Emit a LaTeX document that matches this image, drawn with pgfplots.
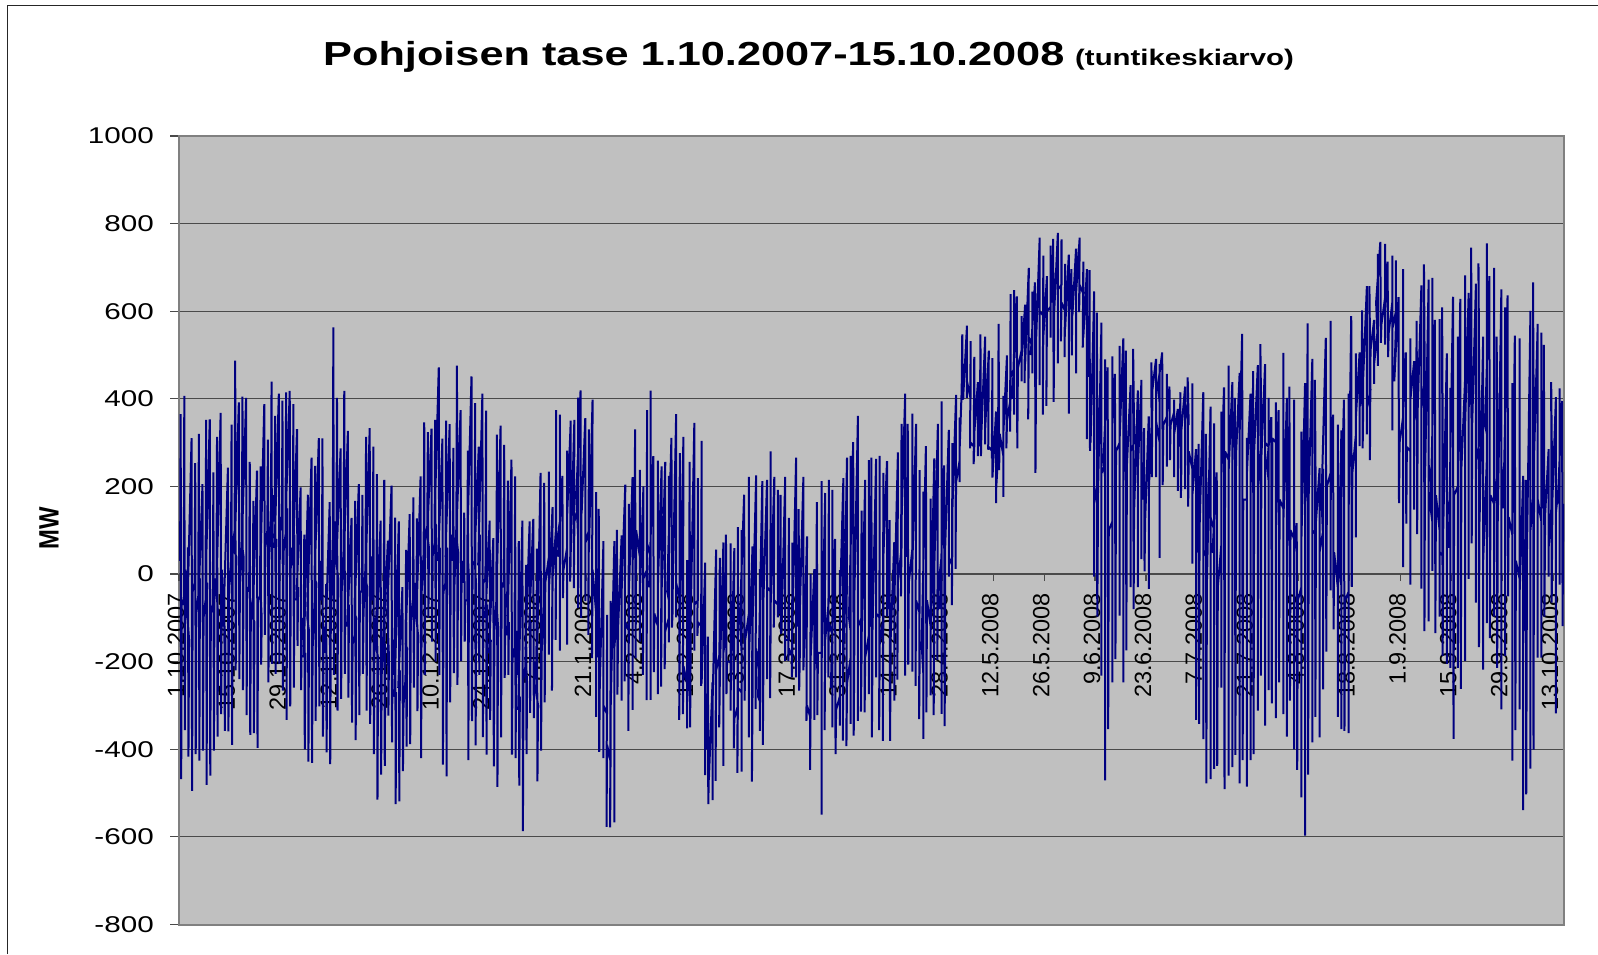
\documentclass[border=0pt]{standalone}
\usepackage{fontspec}
\usepackage{pgfplots}
\pgfplotsset{compat=1.18}
\setmainfont{Liberation Sans}
\newfontfamily\hfont[FakeStretch=1.3]{Liberation Sans}
\newfontfamily\mwfont[FakeStretch=0.85]{Liberation Sans}
\definecolor{plotgray}{HTML}{C0C0C0}
\definecolor{navyline}{HTML}{000080}
\definecolor{framegray}{HTML}{808080}
\definecolor{gridgray}{HTML}{4A4A4A}
\pgfplotsset{
  geom/.style={
    at={(179pt,29.5pt)}, anchor=south west, scale only axis,
    width=1385pt, height=788.5pt,
    xmin=0, xmax=381, ymin=-800, ymax=1000, enlargelimits=false}
}
\begin{document}
\begin{tikzpicture}[x=1pt,y=1pt]
\path[use as bounding box] (0,0) rectangle (1598,954);
\draw[line width=1.3pt,black!85] (7.5,0) -- (7.5,948.5) -- (1598,948.5);
\node[anchor=base west,inner sep=0pt] at (323,888) {\hfont\bfseries\fontsize{33.3}{36}\selectfont Pohjoisen tase 1.10.2007-15.10.2008};
\node[anchor=base west,inner sep=0pt] at (1075,888) {\hfont\bfseries\fontsize{22.6}{24}\selectfont (tuntikeskiarvo)};
\node[anchor=center,rotate=90,inner sep=0pt] at (49,426) {\mwfont\bfseries\fontsize{28}{28}\selectfont MW};
% frame, grey plot area, grid and value axis
\begin{axis}[geom,
  axis background/.style={fill=plotgray},
  axis line style={color=framegray,line width=2pt},
  xtick=\empty,
  ytick pos=left,
  ytick={-800,-600,-400,-200,0,200,400,600,800,1000},
  yticklabels={-800,-600,-400,-200,0,200,400,600,800,1000},
  ymajorgrids, grid style={color=gridgray,line width=1.2pt},
  tick align=outside, major tick length=9pt,
  y tick style={color=gridgray,line width=1.2pt},
  y tick label style={inner sep=0pt,xshift=-16pt,font=\hfont\fontsize{22.8}{23}\selectfont},
]
\end{axis}
% date axis at y = 0
\begin{axis}[geom,
  axis x line=middle, axis y line=none,
  axis line style={-,color=gridgray,line width=1.2pt},
  hide obscured x ticks=false,
  xtick={0,14,28,42,56,70,84,98,112,126,140,154,168,182,196,210,224,238,252,266,280,294,308,322,336,350,364,378},
  xticklabels={1.10.2007,15.10.2007,29.10.2007,12.11.2007,26.11.2007,10.12.2007,24.12.2007,7.1.2008,21.1.2008,4.2.2008,18.2.2008,3.3.2008,17.3.2008,31.3.2008,14.4.2008,28.4.2008,12.5.2008,26.5.2008,9.6.2008,23.6.2008,7.7.2008,21.7.2008,4.8.2008,18.8.2008,1.9.2008,15.9.2008,29.9.2008,13.10.2008},
  tick align=outside, major tick length=7pt,
  x tick style={color=gridgray,line width=1.2pt},
  x tick label style={rotate=90,anchor=east,inner sep=0pt,xshift=-12pt,yshift=3pt,font=\fontsize{23.5}{24}\selectfont},
]
\end{axis}
% data: each day gives a level, the day's high, the day's low, a level
\begin{axis}[geom, hide axis, clip=true]
\addplot[color=navyline,line width=2pt,line join=bevel,line cap=butt,mark=none]
 table[row sep=\\,header=false,
   x expr={floor(\coordindex/4)+(mod(\coordindex,4)==0?0.3:(mod(\coordindex,4)==1?0.46:(mod(\coordindex,4)==2?0.6:0.76)))},
   y index=0] {
30\\365\\-468\\-60\\-70\\407\\-356\\10\\-100\\61\\-417\\-150\\-90\\310\\-495\\-40\\-20\\253\\-411\\-90\\
-50\\320\\-426\\-10\\-80\\205\\-403\\-100\\-60\\352\\-481\\-20\\-30\\353\\-460\\-90\\-70\\232\\-403\\-10\\
-50\\313\\-371\\-90\\-40\\368\\-320\\10\\-120\\-27\\-358\\-150\\-90\\243\\-359\\-30\\20\\341\\-390\\60\\
100\\487\\-220\\40\\50\\392\\-240\\-20\\80\\405\\-265\\40\\70\\402\\-322\\-30\\-40\\256\\-367\\-90\\
-60\\167\\-363\\-110\\-100\\236\\-397\\-60\\-50\\246\\-207\\-100\\-20\\388\\-139\\60\\100\\307\\-247\\40\\
130\\439\\-205\\180\\120\\361\\-228\\80\\60\\412\\-205\\130\\100\\396\\-266\\50\\90\\415\\-333\\150\\
120\\418\\-302\\60\\40\\388\\-259\\90\\20\\331\\-164\\-30\\-60\\198\\-265\\-100\\-150\\90\\-400\\-180\\
-190\\181\\-428\\-130\\-100\\266\\-431\\-170\\-60\\247\\-335\\-20\\-10\\310\\-302\\30\\-60\\310\\-371\\-120\\
-180\\-23\\-407\\-210\\-150\\164\\-434\\-100\\80\\563\\-230\\120\\50\\402\\-312\\-10\\30\\287\\-285\\-40\\
60\\418\\-228\\0\\20\\327\\-282\\-70\\-120\\128\\-339\\-160\\-140\\167\\-379\\-100\\-90\\205\\-322\\-40\\
-40\\181\\-228\\-90\\20\\313\\-312\\-30\\-10\\333\\-342\\40\\-60\\291\\-411\\-100\\-150\\228\\-515\\-190\\
-170\\122\\-458\\-230\\-120\\215\\-438\\-170\\-140\\76\\-323\\-190\\-90\\202\\-384\\-150\\-230\\129\\-525\\-270\\
-280\\120\\-519\\-220\\-260\\-30\\-450\\-300\\-240\\55\\-394\\-170\\-160\\137\\-388\\-110\\-60\\175\\-259\\-20\\
-100\\127\\-313\\-140\\
-100\\223\\-420\\-40\\50\\346\\-230\\80\\110\\324\\-100\\60\\90\\332\\-154\\40\\70\\352\\-200\\110\\
120\\472\\-230\\60\\30\\309\\-435\\-40\\-20\\350\\-462\\60\\40\\342\\-293\\90\\30\\288\\-226\\-30\\
110\\476\\-253\\50\\90\\374\\-199\\30\\-20\\140\\-154\\-60\\-60\\282\\-425\\-10\\70\\451\\-336\\20\\
30\\390\\-391\\-30\\40\\291\\-230\\90\\20\\412\\-372\\-20\\-10\\373\\-412\\-70\\-100\\122\\-333\\-150\\
-180\\82\\-439\\-130\\-60\\318\\-486\\-120\\-60\\339\\-373\\-20\\-30\\295\\-237\\-80\\-40\\213\\-230\\-110\\
-140\\261\\-412\\-170\\-190\\223\\-420\\-130\\-230\\75\\-483\\-280\\-310\\122\\-587\\-240\\-210\\21\\-411\\-250\\
-170\\120\\-317\\-110\\-130\\126\\-329\\-200\\-240\\58\\-473\\-300\\-270\\231\\-403\\-180\\-70\\208\\-293\\-20\\
40\\234\\-184\\10\\-40\\153\\-266\\-10\\110\\374\\-150\\60\\120\\364\\-175\\50\\40\\224\\-55\\10\\
60\\282\\-161\\130\\130\\350\\-17\\40\\50\\352\\-32\\120\\150\\403\\-78\\90\\180\\419\\-100\\220\\
140\\356\\-62\\70\\100\\330\\-139\\170\\50\\398\\-192\\10\\-90\\187\\-326\\-150\\-190\\149\\-406\\-240\\
-250\\75\\-420\\-300\\-320\\-93\\-577\\-390\\-430\\-61\\-578\\-350\\-300\\75\\-567\\-170\\-100\\101\\-275\\-150\\
-130\\88\\-289\\-70\\-40\\204\\-245\\-110\\-130\\160\\-358\\-80\\-40\\221\\-310\\30\\60\\330\\-192\\100\\
40\\238\\-154\\-20\\-50\\200\\-230\\-10\\10\\374\\-288\\70\\40\\419\\-287\\-20\\
-30\\269\\-224\\-90\\-120\\259\\-274\\-60\\-20\\246\\-257\\-70\\-40\\256\\-217\\-130\\-100\\224\\-156\\-60\\
-40\\311\\-122\\-90\\-60\\365\\-99\\-20\\-60\\276\\-333\\-120\\-130\\313\\-320\\-210\\-250\\32\\-352\\-300\\
-200\\256\\-350\\-140\\-100\\345\\-175\\-70\\-60\\219\\-141\\-110\\-120\\304\\-255\\-190\\-250\\26\\-459\\-310\\
-400\\-143\\-525\\-450\\-470\\-247\\-516\\-430\\-300\\56\\-472\\-220\\-180\\37\\-350\\-250\\-230\\72\\-438\\-180\\
-140\\90\\-274\\-200\\-200\\70\\-312\\-260\\-270\\59\\-398\\-330\\-300\\107\\-454\\-260\\-270\\100\\-451\\-180\\
-100\\181\\-289\\-150\\-90\\222\\-373\\-170\\-200\\63\\-474\\-280\\-120\\225\\-308\\-170\\-240\\11\\-358\\-290\\
-280\\212\\-390\\-200\\-60\\215\\-240\\-30\\-40\\280\\-283\\-100\\-70\\222\\-122\\-60\\-70\\192\\-99\\-80\\
-90\\181\\-137\\-130\\-120\\222\\-198\\-150\\-150\\128\\-198\\-170\\-190\\72\\-236\\-160\\-110\\266\\-236\\-80\\
-120\\148\\-266\\-190\\-90\\222\\-175\\-130\\-220\\86\\-335\\-300\\-330\\0\\-447\\-260\\-190\\11\\-333\\-230\\
-120\\164\\-322\\-180\\-180\\212\\-549\\-250\\-210\\185\\-356\\-150\\-60\\215\\-236\\-110\\-140\\192\\-350\\-240\\
-260\\80\\-411\\-310\\-280\\9\\-346\\-230\\-90\\219\\-380\\-170\\-200\\266\\-393\\-250\\-190\\270\\-342\\-130\\
-100\\301\\-369\\-170\\-60\\361\\-335\\-120\\-100\\145\\-314\\-190\\-150\\215\\-316\\-190\\-140\\260\\-274\\-90\\
-120\\266\\-373\\-180\\-130\\263\\-236\\-90\\-100\\270\\-356\\-160\\
-100\\231\\-381\\-50\\40\\258\\-97\\-20\\-80\\123\\-381\\-170\\-150\\73\\-289\\-110\\-70\\278\\-241\\-20\\
60\\343\\-51\\90\\120\\412\\-232\\50\\40\\343\\-207\\-20\\60\\366\\-223\\-30\\30\\343\\-255\\-60\\
-90\\237\\-331\\-160\\-180\\188\\-376\\-230\\-160\\292\\-316\\-60\\-120\\172\\-277\\-200\\-140\\264\\-322\\-60\\
10\\343\\-196\\-40\\40\\394\\-319\\-40\\-80\\248\\-347\\-150\\60\\329\\-6\\20\\40\\299\\-71\\120\\
150\\409\\12\\210\\260\\357\\210\\290\\420\\547\\400\\400\\410\\567\\402\\440\\400\\532\\287\\300\\
290\\496\\251\\300\\320\\438\\269\\290\\300\\547\\269\\340\\330\\542\\296\\310\\330\\510\\284\\290\\
280\\493\\264\\300\\220\\371\\162\\190\\270\\571\\237\\320\\270\\407\\176\\310\\320\\499\\287\\350\\
400\\639\\325\\450\\470\\648\\364\\520\\400\\634\\287\\470\\510\\589\\440\\500\\490\\615\\436\\530\\
480\\699\\353\\540\\520\\645\\458\\560\\500\\666\\231\\470\\530\\768\\431\\600\\590\\727\\364\\550\\
540\\680\\384\\600\\610\\750\\540\\640\\620\\765\\393\\590\\600\\779\\481\\650\\660\\764\\531\\620\\
600\\708\\495\\640\\560\\729\\366\\600\\620\\696\\499\\660\\590\\743\\458\\570\\640\\768\\598\\660\\
640\\713\\517\\590\\540\\696\\308\\510\\450\\694\\281\\400\\300\\645\\-6\\200\\150\\597\\-97\\100\\
170\\574\\-232\\230\\250\\490\\-471\\220\\260\\472\\-354\\100\\
120\\497\\-247\\300\\340\\457\\-194\\280\\300\\521\\-95\\370\\310\\538\\-247\\200\\350\\510\\-174\\290\\
250\\431\\-30\\280\\300\\514\\-80\\210\\150\\419\\-30\\220\\240\\443\\34\\210\\170\\333\\6\\120\\
120\\360\\-34\\190\\380\\483\\221\\430\\420\\491\\221\\350\\300\\479\\37\\390\\430\\506\\203\\340\\
360\\457\\245\\390\\370\\428\\260\\340\\370\\398\\221\\350\\320\\377\\190\\290\\300\\415\\174\\260\\
330\\428\\194\\390\\340\\449\\154\\280\\240\\435\\24\\220\\180\\285\\-333\\60\\50\\297\\-342\\160\\
110\\415\\-377\\40\\60\\320\\-478\\-30\\-20\\382\\-468\\130\\100\\344\\-445\\50\\50\\232\\-438\\-30\\
70\\371\\-259\\210\\230\\426\\-491\\280\\260\\476\\-460\\210\\240\\438\\-441\\300\\290\\402\\-413\\250\\
270\\459\\-478\\300\\320\\548\\-425\\170\\170\\311\\-485\\90\\230\\412\\-425\\290\\210\\463\\-411\\250\\
280\\477\\-312\\200\\310\\525\\-232\\350\\270\\479\\-346\\300\\290\\402\\-265\\210\\250\\358\\-295\\310\\
300\\392\\-329\\200\\140\\374\\-247\\170\\150\\505\\-320\\120\\110\\402\\-371\\60\\150\\428\\-289\\100\\
80\\398\\-400\\30\\50\\116\\-447\\-60\\-30\\325\\-510\\30\\80\\436\\-597\\160\\230\\572\\-458\\150\\
180\\491\\-384\\100\\90\\443\\-326\\160\\120\\242\\-373\\50\\100\\240\\-263\\70\\170\\539\\-177\\200\\
230\\578\\-37\\210\\150\\364\\-126\\50\\-30\\341\\-326\\-60\\
-70\\328\\-354\\-30\\20\\398\\-358\\-60\\-40\\412\\-363\\90\\150\\589\\-29\\230\\320\\504\\84\\290\\
360\\506\\292\\380\\420\\602\\287\\390\\450\\657\\319\\380\\420\\657\\260\\500\\510\\580\\434\\480\\
560\\731\\475\\530\\620\\758\\528\\570\\630\\754\\524\\590\\600\\713\\495\\550\\620\\727\\328\\560\\
600\\716\\532\\570\\440\\632\\162\\300\\360\\696\\16\\320\\380\\506\\115\\290\\280\\538\\-24\\340\\
400\\486\\147\\350\\380\\578\\91\\390\\380\\659\\-33\\430\\360\\707\\-130\\280\\220\\672\\-108\\250\\
190\\676\\7\\120\\150\\580\\-135\\180\\100\\582\\-97\\50\\40\\609\\-187\\20\\100\\504\\-205\\170\\
120\\425\\-214\\90\\60\\633\\-376\\180\\200\\542\\-214\\120\\220\\628\\-262\\240\\440\\682\\-198\\400\\
330\\642\\-11\\380\\420\\745\\70\\370\\350\\663\\-65\\260\\300\\709\\-167\\220\\120\\542\\-218\\30\\
260\\755\\-112\\320\\340\\680\\-146\\180\\160\\699\\-97\\220\\140\\542\\-214\\80\\120\\650\\-309\\180\\
270\\609\\-187\\210\\150\\636\\-51\\130\\90\\436\\-426\\10\\50\\544\\-356\\30\\-10\\538\\-309\\40\\
-50\\224\\-539\\-130\\-120\\215\\-503\\-70\\30\\601\\-444\\100\\200\\666\\-401\\250\\270\\571\\-191\\170\\
120\\551\\-191\\200\\150\\523\\-97\\90\\130\\285\\-6\\60\\180\\438\\-65\\120\\160\\404\\-318\\140\\
220\\424\\-24\\160\\170\\395\\-119\\160\\
};
\end{axis}
\end{tikzpicture}
\end{document}
